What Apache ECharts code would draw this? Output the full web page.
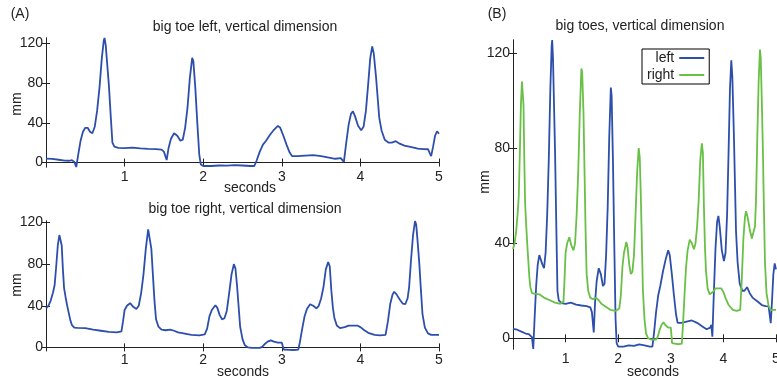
<!DOCTYPE html>
<html>
<head>
<meta charset="utf-8">
<script src="https://cdn.jsdelivr.net/npm/echarts@6/dist/echarts.min.js"></script>
<style>
  html, body { margin: 0; padding: 0; background: #fff; }
  #chart { width: 777px; height: 380px; }
</style>
</head>
<body>
<div id="chart"></div>
<script>
// big toe left, vertical position (mm) over time (s)
const leftTime = [0.00, 0.08, 0.16, 0.24, 0.30, 0.33, 0.36, 0.385, 0.41, 0.44, 0.47, 0.50, 0.53, 0.56, 0.59, 0.62, 0.65, 0.68, 0.71, 0.735, 0.745, 0.76, 0.78, 0.80, 0.825, 0.845, 0.87, 0.92, 1.00, 1.10, 1.20, 1.30, 1.40, 1.47, 1.50, 1.535, 1.56, 1.59, 1.63, 1.67, 1.71, 1.74, 1.77, 1.80, 1.83, 1.86, 1.875, 1.90, 1.925, 1.95, 1.97, 2.00, 2.10, 2.20, 2.30, 2.40, 2.50, 2.60, 2.65, 2.68, 2.72, 2.76, 2.80, 2.85, 2.90, 2.95, 2.98, 3.02, 3.06, 3.10, 3.13, 3.20, 3.30, 3.40, 3.50, 3.60, 3.68, 3.75, 3.77, 3.79, 3.82, 3.85, 3.88, 3.905, 3.93, 3.97, 4.01, 4.04, 4.07, 4.10, 4.125, 4.15, 4.17, 4.20, 4.22, 4.24, 4.27, 4.31, 4.36, 4.40, 4.45, 4.50, 4.56, 4.65, 4.73, 4.80, 4.86, 4.885, 4.90, 4.925, 4.95, 4.975, 5.00];
const leftMm = [4.0, 3.6, 2.8, 2.0, 1.8, 2.4, 0.5, -4.5, 8, 22, 31, 35, 35, 31, 29.5, 36, 52, 75, 105, 123, 125.5, 118, 98, 78, 45, 20, 16, 14.8, 14.5, 15, 14.2, 13.8, 13.5, 13, 11, 2.5, 15, 24, 29.5, 27, 22, 23, 35, 55, 85, 105.5, 102, 75, 40, 8, -2, -3.5, -3.5, -3, -3.2, -2.6, -3, -3.5, -3.5, 2, 11, 18, 22, 28, 33, 37, 35, 27, 18, 10, 6.5, 6.5, 7, 7.5, 6.5, 5, 3.8, 4.5, 5.7, 0.7, 20, 38, 49, 51.5, 47, 37, 32.5, 36, 52, 80, 105, 117, 110, 85, 65, 45, 32, 23, 20, 20, 21.5, 19, 17, 15.5, 14, 13.5, 13.4, 9, 6.4, 16, 27, 31.5, 29];

// big toe right
const rightTime = [0.00, 0.03, 0.06, 0.09, 0.11, 0.13, 0.15, 0.17, 0.185, 0.20, 0.215, 0.23, 0.25, 0.27, 0.29, 0.31, 0.33, 0.36, 0.40, 0.50, 0.60, 0.70, 0.80, 0.90, 0.96, 0.98, 1.00, 1.03, 1.07, 1.11, 1.15, 1.18, 1.21, 1.24, 1.27, 1.30, 1.315, 1.34, 1.36, 1.38, 1.40, 1.43, 1.47, 1.52, 1.58, 1.63, 1.68, 1.75, 1.85, 1.95, 2.02, 2.05, 2.08, 2.11, 2.155, 2.18, 2.21, 2.24, 2.27, 2.30, 2.33, 2.36, 2.39, 2.41, 2.43, 2.45, 2.47, 2.50, 2.53, 2.57, 2.62, 2.67, 2.72, 2.75, 2.78, 2.82, 2.86, 2.90, 2.95, 3.00, 3.015, 3.025, 3.10, 3.15, 3.21, 3.23, 3.26, 3.29, 3.32, 3.36, 3.40, 3.44, 3.47, 3.50, 3.53, 3.56, 3.59, 3.61, 3.63, 3.65, 3.67, 3.70, 3.74, 3.80, 3.85, 3.90, 3.96, 4.00, 4.05, 4.10, 4.18, 4.25, 4.32, 4.35, 4.38, 4.41, 4.43, 4.46, 4.50, 4.54, 4.57, 4.60, 4.62, 4.645, 4.67, 4.695, 4.71, 4.73, 4.75, 4.77, 4.79, 4.82, 4.86, 4.90, 5.00];
const rightMm = [37.6, 40, 45, 53, 60, 78, 98, 108, 108, 98, 75, 57, 48, 40, 33, 26, 21.5, 19, 18.8, 18.5, 17, 16, 15, 14.5, 15.5, 25, 36, 40, 42.5, 39, 37, 40, 52, 70, 95, 113.5, 112, 95, 70, 45, 27, 20, 17, 16.5, 17, 16, 14.5, 13.5, 12, 11.5, 12.5, 18, 30, 36, 40.5, 38, 31, 27, 28, 35, 52, 70, 80, 76, 60, 40, 20, 8, 2, 0, -0.5, -0.5, -0.5, 0.5, 3, 5.5, 6.8, 5.5, 4.5, 4.5, 4, -2, -2.3, -2.5, -2.2, 5, 18, 30, 37, 41.5, 40, 37.5, 40, 47, 58, 75, 82, 78, 55, 38, 28, 21, 18.5, 19.5, 21, 21, 21, 19.5, 16.5, 14, 12, 11.5, 12, 25, 42, 51, 53.5, 51, 46, 42, 41.5, 47, 58, 85, 108, 121.5, 118, 100, 80, 55, 32, 19, 13.5, 12, 12];

const yTicks = [0, 40, 80, 120];

const BLUE = '#2d4fab';
const GREEN = '#69c046';
const INK = '#222';
const FONT = '"Liberation Sans", Arial, Helvetica, sans-serif';

const zip = (t, v) => t.map((x, i) => [x, v[i]]);

const chart = echarts.init(document.getElementById('chart'));

const grids = [
  { left: 46, top: 38, width: 393, height: 129 },
  { left: 46, top: 221, width: 393, height: 129 },
  { left: 513, top: 40, width: 263, height: 309 }
].map(g => Object.assign(g, { containLabel: false, outerBoundsMode: 'none' }));
const yRange = [[-4.5, 125.5], [-2.5, 121.5], [-4.5, 125.5]];

const xAxes = [];
const yAxes = [];
grids.forEach((g, i) => {
  const line = { show: true, lineStyle: { color: INK, width: 1 } };
  const tick = { show: true, inside: true, length: 4, lineStyle: { color: INK } };
  xAxes.push({
    type: 'value', gridIndex: i, min: 0, max: 5, interval: 1,
    axisLine: line, axisTick: tick, splitLine: { show: false },
    axisLabel: {
      fontSize: 14, color: INK, fontFamily: FONT, margin: 3,
      formatter: v => (v === 0 ? '' : String(v))
    }
  });
  xAxes.push({
    type: 'value', gridIndex: i, position: 'top', min: 0, max: 5, interval: 1,
    axisLine: line, axisTick: tick, axisLabel: { show: false }, splitLine: { show: false }
  });
  yAxes.push({
    type: 'value', gridIndex: i, min: yRange[i][0], max: yRange[i][1],
    axisLine: line, splitLine: { show: false },
    axisTick: Object.assign({}, tick, { customValues: yTicks }),
    axisLabel: { fontSize: 14, color: INK, fontFamily: FONT, margin: 3, customValues: yTicks }
  });
  yAxes.push({
    type: 'value', gridIndex: i, position: 'right', min: yRange[i][0], max: yRange[i][1],
    axisLine: line, splitLine: { show: false },
    axisTick: Object.assign({}, tick, { customValues: yTicks }),
    axisLabel: { show: false, customValues: yTicks }
  });
});

const lineSeries = (name, data, color, idx) => ({
  name, type: 'line', data, xAxisIndex: idx * 2, yAxisIndex: idx * 2,
  showSymbol: false, symbol: 'none', animation: false,
  lineStyle: { color, width: 1.8 }, itemStyle: { color }
});

const textEl = (text, x, y, rotation) => ({
  type: 'text', x, y, rotation: rotation || 0,
  style: { text, fill: INK, font: '14px ' + FONT, textAlign: 'center', textVerticalAlign: 'middle' }
});

chart.setOption({
  animation: false,
  grid: grids,
  xAxis: xAxes,
  yAxis: yAxes,
  legend: {
    data: ['left', 'right'],
    orient: 'vertical', left: 642, top: 49,
    align: 'right', icon: 'rect', itemWidth: 25, itemHeight: 2, itemGap: 3,
    padding: [2, 5, 2, 5],
    backgroundColor: '#fff', borderColor: '#000', borderWidth: 1, borderRadius: 0,
    textStyle: { fontSize: 14, color: INK, fontFamily: FONT, width: 30, align: 'right' }
  },
  graphic: [
    textEl('(A)', 20, 14),
    textEl('(B)', 497, 14),
    textEl('big toe left, vertical dimension', 245, 27),
    textEl('big toe right, vertical dimension', 245, 209),
    textEl('big toes, vertical dimension', 640, 26),
    textEl('seconds', 250, 188),
    textEl('seconds', 243, 372),
    textEl('seconds', 653, 372),
    textEl('mm', 17, 104, Math.PI / 2),
    textEl('mm', 17, 285, Math.PI / 2),
    textEl('mm', 485, 182, Math.PI / 2)
  ],
  series: [
    lineSeries('toeL', zip(leftTime, leftMm), BLUE, 0),
    lineSeries('toeR', zip(rightTime, rightMm), BLUE, 1),
    lineSeries('left', zip(leftTime, leftMm), BLUE, 2),
    lineSeries('right', zip(rightTime, rightMm), GREEN, 2)
  ]
});
</script>
</body>
</html>
